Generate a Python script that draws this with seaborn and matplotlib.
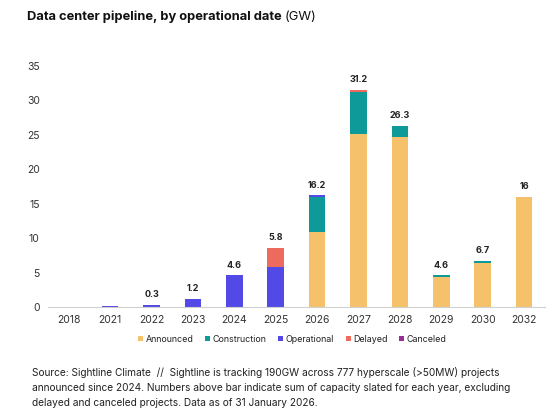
import matplotlib
matplotlib.use("Agg")
import matplotlib.pyplot as plt
from matplotlib.patches import Patch
import seaborn as sns
import numpy as np
import pandas as pd

years = ['2018', '2021', '2022', '2023', '2024', '2025', '2026', '2027', '2028', '2029', '2030', '2032']
announced = [0, 0, 0, 0, 0, 0, 10.9, 25.1, 24.7, 4.35, 6.4, 16.0]
construction = [0, 0, 0, 0, 0, 0, 5.1, 6.1, 1.6, 0.25, 0.3, 0]
operational = [0, 0.2, 0.3, 1.2, 4.6, 5.8, 0.2, 0, 0, 0, 0, 0]
delayed = [0, 0, 0, 0, 0, 2.8, 0, 0.3, 0, 0, 0, 0]
canceled = [0, 0, 0, 0, 0, 0, 0, 0, 0, 0, 0, 0]
total_labels = ['', '', '0.3', '1.2', '4.6', '5.8', '16.2', '31.2', '26.3', '4.6', '6.7', '16']
yticks = [0, 5, 10, 15, 20, 25, 30, 35]

series_names = ['Announced', 'Construction', 'Operational', 'Delayed', 'Canceled']
series_vals = [announced, construction, operational, delayed, canceled]
colors = ['#F5C26B', '#0E9A98', '#5249E6', '#EE6A5C', '#9A2D96']

sns.set_theme(style="white")
plt.rcParams['font.family'] = ['Inter', 'DejaVu Sans']

fig = plt.figure(figsize=(5.52, 4.2), dpi=100)
ax = fig.add_axes([0.087, 0.269, 0.900, 0.575])

df = pd.DataFrame({n: v for n, v in zip(series_names, series_vals)}, index=years)
cum = df.cumsum(axis=1)

# overplot cumulative sums from top layer down
for name, col in reversed(list(zip(series_names, colors))):
    sns.barplot(x=years, y=cum[name].values, color=col, width=0.4,
                saturation=1, ax=ax, order=years, linewidth=0)

tops = cum[series_names[-1]].values
for i, lab in enumerate(total_labels):
    if lab:
        ax.annotate(lab, (i, tops[i]), xytext=(0, 4), textcoords='offset points',
                    ha='center', va='bottom', fontsize=6.5, fontweight='bold', color='#222222')

ax.set_ylim(0, 35)
ax.set_xlim(-0.5, len(years) - 0.5)
ax.set_yticks(yticks)
ax.set_yticklabels([str(t) for t in yticks])
for s in ['top', 'right', 'left']:
    ax.spines[s].set_visible(False)
ax.spines['bottom'].set_color('#d0d0d0')
ax.spines['bottom'].set_linewidth(0.8)
ax.tick_params(axis='both', length=0, labelsize=7.5, labelcolor='#333333')
ax.tick_params(axis='y', pad=6)
ax.tick_params(axis='x', pad=6)
ax.set_xlabel('')
ax.set_ylabel('')
ax.grid(False)

handles = [Patch(facecolor=c, edgecolor='none', label=n) for n, c in zip(series_names, colors)]
fig.legend(handles=handles, loc='center', bbox_to_anchor=(0.530, 1 - 339 / 420), ncol=5,
           frameon=False, fontsize=6.4, handlelength=0.55, handleheight=0.55,
           handletextpad=0.3, columnspacing=1.3, labelcolor='#222222')

fig.text(27 / 552, 1 - 17 / 420, 'Data center pipeline, by operational date', fontsize=9.3,
         fontweight='bold', ha='left', va='center', color='#111111')
fig.canvas.draw()

# place "(GW)" right after bold title
title_artist = fig.texts[0]
bb = title_artist.get_window_extent()
fig.text(bb.x1 / fig.dpi / 5.52 + 3 / 552, 1 - 17 / 420, '(GW)', fontsize=9.3,
         ha='left', va='center', color='#111111')

footer = ("Source: Sightline Climate  //  Sightline is tracking 190GW across 777 hyperscale (>50MW) projects\n"
          "announced since 2024. Numbers above bar indicate sum of capacity slated for each year, excluding\n"
          "delayed and canceled projects. Data as of 31 January 2026.")
fig.text(32 / 552, 1 - 367 / 420, footer, fontsize=7.3, ha='left', va='top', color='#222222',
         linespacing=1.6)

fig.savefig('out.png', dpi=100)
